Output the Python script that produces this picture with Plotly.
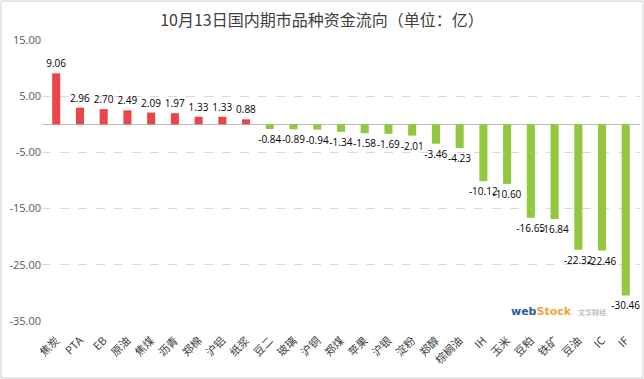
import plotly.graph_objects as go

categories = ["焦炭", "PTA", "EB", "原油", "焦煤", "沥青", "郑棉", "沪铝", "纸浆", "豆二",
              "玻璃", "沪铜", "郑煤", "苹果", "沪银", "淀粉", "郑醇", "棕榈油", "IH", "玉米",
              "豆粕", "铁矿", "豆油", "IC", "IF"]
values = [9.06, 2.96, 2.70, 2.49, 2.09, 1.97, 1.33, 1.33, 0.88, -0.84,
          -0.89, -0.94, -1.34, -1.58, -1.69, -2.01, -3.46, -4.23, -10.12, -10.60,
          -16.65, -16.84, -22.32, -22.46, -30.46]
y_ticks = [15, 5, -5, -15, -25, -35]
y_tick_labels = ["15.00", "5.00", "-5.00", "-15.00", "-25.00", "-35.00"]

colors = ["#E8464A" if v >= 0 else "#92C83E" for v in values]
texts = [f"{v:.2f}" for v in values]

W, H = 644, 379
ml, mr, mt, mb = 42, 4, 40, 58
pw, ph = W - ml - mr, H - mt - mb

font_family = "Noto Sans CJK SC, Microsoft YaHei, sans-serif"

fig = go.Figure(go.Bar(
    x=categories, y=values, marker=dict(color=colors, line=dict(width=0)),
    text=texts, textposition="outside", constraintext="none",
    textfont=dict(size=10, color="#000000", family="Open Sans, sans-serif"),
    cliponaxis=False, width=0.34,
))

def px_x(p):
    return (p - ml) / pw

def px_y(p):
    return 1 - (p - mt) / ph

fig.update_layout(
    width=W, height=H,
    margin=dict(l=ml, r=mr, t=mt, b=mb, autoexpand=False),
    paper_bgcolor="white", plot_bgcolor="white",
    font=dict(family=font_family, color="#595959", size=11),
    title=dict(text="10月13日国内期市品种资金流向（单位：亿）", x=0.5, xanchor="center",
               y=1 - 20 / H, yanchor="middle",
               font=dict(size=16, color="#404040", family=font_family)),
    showlegend=False,
    xaxis=dict(tickangle=-45, showgrid=False, showline=False, ticks="", automargin=False,
               ticklabelstandoff=10,
               tickfont=dict(size=11, color="#404040"), range=[-0.6, 24.6]),
    yaxis=dict(range=[-35, 15], tickvals=y_ticks, ticktext=y_tick_labels, automargin=False,
               showgrid=True, gridcolor="#D9D9D9", griddash="dash", gridwidth=1,
               zeroline=True, zerolinecolor="#BFBFBF", zerolinewidth=1,
               showline=False, ticks="", tickfont=dict(size=11, color="#595959", family="Open Sans, sans-serif")),
    shapes=[dict(type="rect", xref="paper", yref="paper",
                 x0=px_x(1), x1=px_x(W - 1), y0=px_y(H - 1), y1=px_y(1),
                 line=dict(color="#D0D0D0", width=1), fillcolor="rgba(0,0,0,0)", layer="below")],
    annotations=[
        dict(xref="paper", yref="paper", x=px_x(574), y=px_y(311), xanchor="right", yanchor="middle",
             text="<b><span style='color:#2E5C9A'>web</span><span style='color:#F2A33A'>Stock</span></b>",
             showarrow=False, font=dict(size=11, family="DejaVu Sans")),
        dict(xref="paper", yref="paper", x=px_x(576), y=px_y(312), xanchor="left", yanchor="middle",
             text="文华财经", showarrow=False, font=dict(size=7, color="#A0A0A0")),
    ],
)

fig.write_html("out.html", config={"displayModeBar": False},
               post_script="document.body.style.margin='0';")
